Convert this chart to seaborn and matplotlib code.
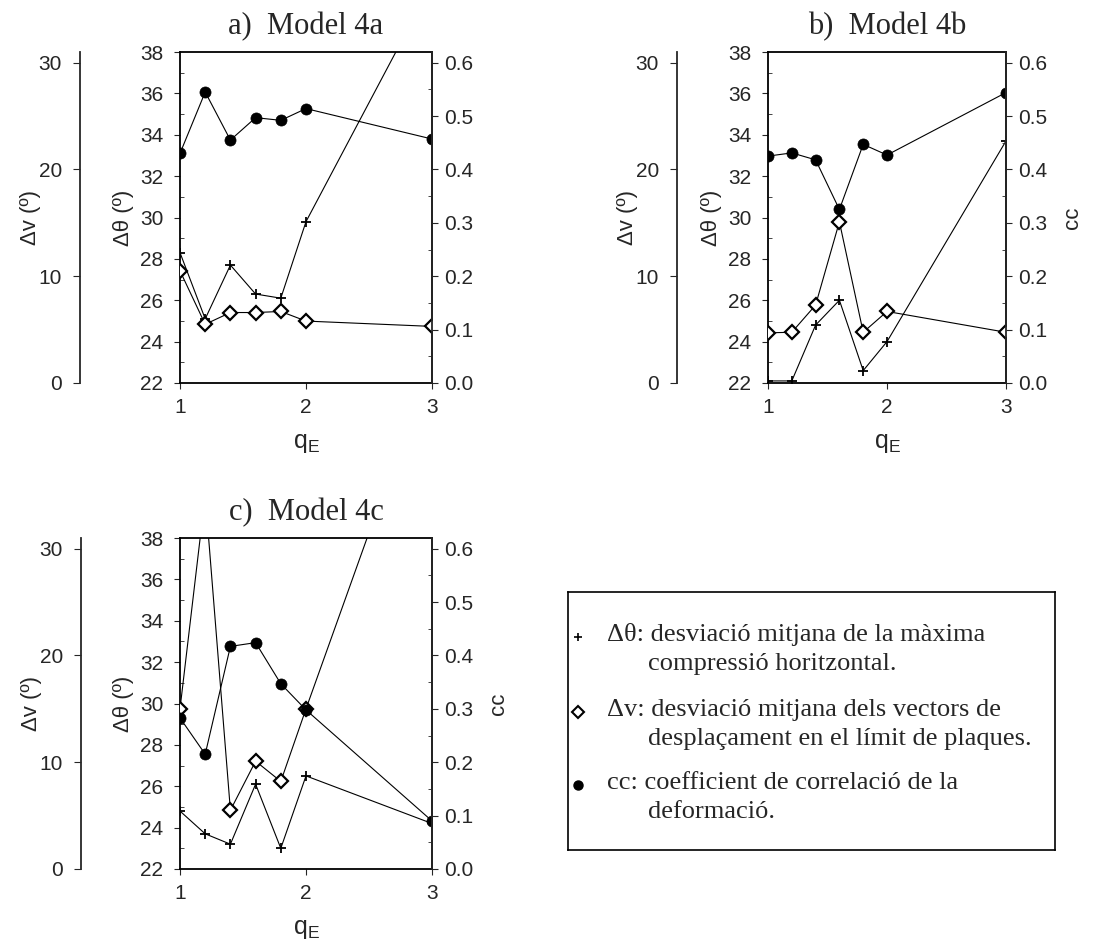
import numpy as np
import seaborn as sns
import matplotlib.pyplot as plt
from matplotlib.ticker import MultipleLocator

sns.set_style('ticks')
plt.rcParams['font.family'] = ['Liberation Sans', 'DejaVu Sans']
plt.rcParams['mathtext.fontset'] = 'custom'
plt.rcParams['mathtext.rm'] = 'Liberation Sans'
plt.rcParams['mathtext.it'] = 'Liberation Sans'

# q_E values shared by all models
q_e = [1.0, 1.2, 1.4, 1.6, 1.8, 2.0, 3.0]

# Model 4a
theta_4a = [28.3, 25.1, 27.7, 26.3, 26.1, 29.8, 41.3]
dv_4a = [10.5, 5.5, 6.6, 6.6, 6.7, 5.8, 5.3]
cc_4a = [0.43, 0.545, 0.455, 0.497, 0.492, 0.514, 0.457]

# Model 4b
theta_4b = [22.1, 22.1, 24.8, 26.0, 22.6, 24.0, 33.7]
dv_4b = [4.7, 4.75, 7.3, 15.1, 4.75, 6.7, 4.75]
cc_4b = [0.425, 0.431, 0.418, 0.325, 0.447, 0.427, 0.544]

# Model 4c
theta_4c = [24.8, 23.7, 23.2, 26.1, 23.0, 26.5, 24.2]
dv_4c = [15.0, 35.0, 5.5, 10.1, 8.2, 15.0, 48.0]
cc_4c = [0.283, 0.215, 0.417, 0.424, 0.347, 0.298, 0.09]

titles = ['a)  Model 4a', 'b)  Model 4b', 'c)  Model 4c']

legend_lines = [
    ('Δθ: desviació mitjana de la màxima', 'compressió horitzontal.'),
    ('Δv: desviació mitjana dels vectors de', 'desplaçament en el límit de plaques.'),
    ('cc: coefficient de correlació de la', 'deformació.'),
]

W, H = 1120, 942
fig = plt.figure(figsize=(W / 100, H / 100), dpi=100)

serif = ['Liberation Serif', 'DejaVu Serif']
tick_fs = 15
lab_fs = 16


def rect(left, right, top, bottom):
    return [left / W, 1 - bottom / H, (right - left) / W, (bottom - top) / H]


def panel(box, title, theta, dv, cc, offset_px, show_cc):
    ax = fig.add_axes(box)
    ax_v = ax.twinx()
    ax_c = ax.twinx()

    # delta theta (main left axis)
    sns.lineplot(x=q_e, y=theta, ax=ax, color='k', lw=0.8, marker='+',
                 markersize=7, markeredgewidth=1.3, markeredgecolor='k',
                 legend=False)
    # delta v (outer left axis)
    sns.lineplot(x=q_e, y=dv, ax=ax_v, color='k', lw=0.8, marker='D',
                 markersize=7.5, markerfacecolor='white',
                 markeredgecolor='k', markeredgewidth=1.6, legend=False)
    # cc (right axis)
    sns.lineplot(x=q_e, y=cc, ax=ax_c, color='k', lw=0.8, marker='o',
                 markersize=8, markeredgecolor='k', markeredgewidth=0.5,
                 legend=False)

    ax.set_xlim(1, 3)
    ax.set_ylim(22, 38)
    ax.set_xticks([1, 2, 3])
    ax.set_yticks(np.arange(22, 39, 2))
    ax.yaxis.set_minor_locator(MultipleLocator(1))
    ax.tick_params(axis='y', which='minor', direction='in', length=3)
    ax.tick_params(axis='y', which='major', labelsize=tick_fs, length=4, pad=8)
    ax.tick_params(axis='x', which='major', labelsize=tick_fs, length=4, pad=7)
    ax.set_xlabel('q$_E$', fontsize=lab_fs + 2, labelpad=10)
    ax.set_ylabel('Δθ (º)', fontsize=lab_fs, labelpad=4)
    for s in ax.spines.values():
        s.set_linewidth(1.3)
        s.set_color('k')
    ax.set_title(title, family=serif, fontsize=22, pad=13)

    ax_v.set_ylim(0, 31)
    ax_v.set_yticks([0, 10, 20, 30])
    ax_v.yaxis.set_ticks_position('left')
    ax_v.yaxis.set_label_position('left')
    ax_v.spines['left'].set_position(('outward', offset_px * 0.72))
    ax_v.spines['left'].set_linewidth(1.3)
    for s in ['right', 'top', 'bottom']:
        ax_v.spines[s].set_visible(False)
    ax_v.tick_params(axis='y', labelsize=tick_fs, length=5, pad=8)
    ax_v.set_ylabel('Δv (º)', fontsize=lab_fs, labelpad=-2)

    ax_c.set_ylim(0, 0.62)
    ax_c.set_yticks(np.arange(0, 0.61, 0.1))
    ax_c.set_yticklabels([f'{v:.1f}' for v in np.arange(0, 0.61, 0.1)])
    ax_c.yaxis.set_minor_locator(MultipleLocator(0.05))
    ax_c.tick_params(axis='y', which='minor', direction='in', length=3)
    ax_c.tick_params(axis='y', which='major', labelsize=tick_fs, length=4, pad=5)
    for s in ['left', 'top', 'bottom']:
        ax_c.spines[s].set_visible(False)
    ax_c.spines['right'].set_linewidth(1.3)
    if show_cc:
        ax_c.set_ylabel('cc', fontsize=lab_fs, labelpad=10)
    else:
        ax_c.set_ylabel('')
    return ax


panel(rect(180, 432, 52, 383), titles[0], theta_4a, dv_4a, cc_4a, 100, False)
panel(rect(768, 1006, 52, 383), titles[1], theta_4b, dv_4b, cc_4b, 91, True)
panel(rect(180, 432, 538, 869), titles[2], theta_4c, dv_4c, cc_4c, 99, True)

# legend box drawn in its own axes, using pixel-like coordinates
lx0, lx1, ly0, ly1 = 568, 1055, 592, 850
lax = fig.add_axes(rect(lx0, lx1, ly0, ly1))
lax.set_xlim(lx0, lx1)
lax.set_ylim(ly1, ly0)
lax.set_xticks([])
lax.set_yticks([])
for s in lax.spines.values():
    s.set_visible(True)
    s.set_color('k')
    s.set_linewidth(1.2)

key_styles = [
    dict(marker='+', color='k', markersize=6, markeredgewidth=1.2),
    dict(marker='D', markerfacecolor='white', markeredgecolor='k',
         markersize=6, markeredgewidth=1.5),
    dict(marker='o', color='k', markersize=6.5),
]
row_y = [635, 710, 783]
for (first, second), y, style in zip(legend_lines, row_y, key_styles):
    lax.plot([578], [y + 2], ls='none', **style)
    lax.text(607, y, first, family=serif, fontsize=19, va='center', ha='left')
    lax.text(648, y + 29, second, family=serif, fontsize=19, va='center',
             ha='left')

fig.savefig('out.png', dpi=100)
